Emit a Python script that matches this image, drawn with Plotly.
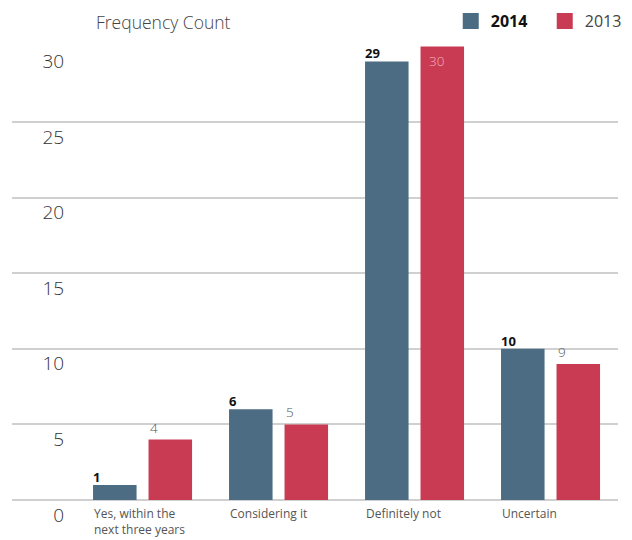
import plotly.graph_objects as go

# Survey answers and frequency counts per year
categories = ["Yes, within the<br>next three years", "Considering it", "Definitely not", "Uncertain"]
values_2014 = [1, 6, 29, 10]
values_2013 = [4, 5, 30, 9]
y_ticks = [0, 5, 10, 15, 20, 25, 30]
y_max = 30

BLUE = "#4B6C82"
RED = "#C83B53"
GRID = "#D0D0D0"
FONT = "Open Sans"

BAR_W = 0.32
OFF_2014 = -0.364
OFF_2013 = 0.044

idx = list(range(len(categories)))
left_2014 = [i + OFF_2014 for i in idx]
left_2013 = [i + OFF_2013 for i in idx]

fig = go.Figure()

fig.add_bar(x=idx, y=values_2014, offset=OFF_2014, width=BAR_W,
            marker_color=BLUE, marker_line_width=0, showlegend=False, hoverinfo="skip")
fig.add_bar(x=idx, y=values_2013, offset=OFF_2013, width=BAR_W,
            marker_color=RED, marker_line_width=0, showlegend=False, hoverinfo="skip")

# 2014 value labels, left-aligned on each bar's left edge (drawn on the overlaying
# y2 axis, which shares the y scale and carries the tick labels)
fig.add_scatter(x=left_2014, y=values_2014, mode="text", yaxis="y2",
                text=[str(v) for v in values_2014], textposition="top right",
                textfont=dict(family=FONT, size=13, color="#111111", weight=700),
                cliponaxis=False, showlegend=False, hoverinfo="skip")

# 2013 value labels: above the bar, or tucked inside it when the bar reaches the top
for xl, v in zip(left_2013, values_2013):
    inside = v >= y_max
    fig.add_annotation(text=str(v), x=xl, xref="x", y=v, yref="y",
                       xanchor="left", yanchor="top" if inside else "bottom",
                       xshift=6 if inside else -1, yshift=-4 if inside else 1,
                       showarrow=False,
                       font=dict(family=FONT, size=13.5, weight=300,
                                 color="#F3B3BE" if inside else "#555555"))

# legend keys
fig.add_scatter(x=[None], y=[None], mode="markers", name="<b>2014</b>",
                marker=dict(symbol="square", size=16, color=BLUE))
fig.add_scatter(x=[None], y=[None], mode="markers",
                name="<span style='color:#444444'>2013</span>",
                marker=dict(symbol="square", size=16, color=RED))

fig.add_annotation(text="Frequency Count", xref="paper", yref="paper",
                   x=0.135, y=1.053, xanchor="left", yanchor="middle", showarrow=False,
                   font=dict(family=FONT, size=17.5, color="#444444", weight=300))

# category labels, left-aligned under the first bar of each group
for xl, label in zip(left_2014, categories):
    fig.add_annotation(text=label, x=xl, xref="x", y=0, yref="y",
                       xanchor="left", yanchor="top", align="left", showarrow=False,
                       xshift=-1, yshift=-3,
                       font=dict(family=FONT, size=12, color="#555555"))

fig.update_layout(
    width=632, height=540,
    margin=dict(l=12, r=14, t=46, b=40, autoexpand=False),
    paper_bgcolor="white", plot_bgcolor="white",
    barmode="overlay",
    font=dict(family=FONT, color="#333333"),
    legend=dict(orientation="h", x=0.724, xanchor="left", y=1.055, yanchor="middle",
                entrywidth=49, entrywidthmode="pixels",
                font=dict(family=FONT, size=16, color="#111111"),
                itemsizing="trace", bgcolor="rgba(0,0,0,0)"),
    xaxis=dict(range=[-0.96, 3.496], showticklabels=False, showgrid=False,
               zeroline=False, showline=False, ticks=""),
    yaxis=dict(range=[0, y_max + 0.03], tickvals=y_ticks, showticklabels=False,
               showgrid=True, gridcolor=GRID, gridwidth=1.5,
               zeroline=True, zerolinecolor=GRID, zerolinewidth=1.5, showline=False),
    yaxis2=dict(overlaying="y", anchor="free", position=0.086, side="left",
                matches="y", tickvals=y_ticks, showgrid=False, zeroline=False,
                showline=False, ticks="", ticklabelshift=15,
                tickfont=dict(family=FONT, size=19, color="#333333", weight=300)),
)

fig.write_html("out.html")
